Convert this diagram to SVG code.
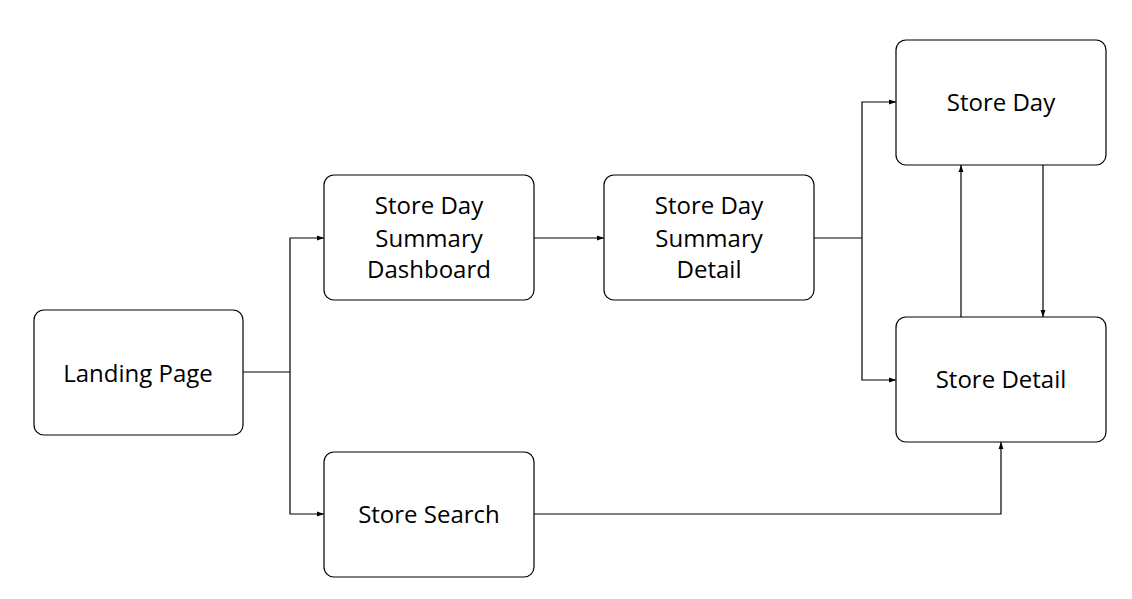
<svg xmlns="http://www.w3.org/2000/svg" width="1132" height="599" viewBox="0 0 1132 599">
<style>
.n rect{fill:#fff;stroke:#000;stroke-width:1.2}
.n text{font-family:"Open Sans","Liberation Sans",sans-serif;font-size:24px;text-anchor:middle;dominant-baseline:central;fill:#000}
.c path{fill:none;stroke:#000;stroke-width:1.2}
</style>
<defs><marker id="a" viewBox="0 0 10 10" refX="10" refY="5" markerWidth="7" markerHeight="7" orient="auto" markerUnits="userSpaceOnUse"><path d="M0,1.5L10,5L0,8.5z" fill="#000"/></marker></defs>
<rect width="1132" height="599" fill="#fff"/>
<g class="c">
<path d="M243,372H290"/>
<path d="M290,372V238H324" marker-end="url(#a)"/>
<path d="M290,372V514H324" marker-end="url(#a)"/>
<path d="M534,238H604" marker-end="url(#a)"/>
<path d="M814,238H862"/>
<path d="M862,238V102H896" marker-end="url(#a)"/>
<path d="M862,238V380H896" marker-end="url(#a)"/>
<path d="M1043,165V317" marker-end="url(#a)"/>
<path d="M961,317V165" marker-end="url(#a)"/>
<path d="M534,514H1001V442" marker-end="url(#a)"/>
</g>
<g id="landing" class="n"><rect x="34" y="310" width="209" height="125" rx="10"/><text x="138" y="372">Landing Page</text></g>
<g id="dashboard" class="n"><rect x="324" y="175" width="210" height="125" rx="10"/><text x="429" y="204">Store Day</text><text x="429" y="237">Summary</text><text x="429" y="268">Dashboard</text></g>
<g id="detail" class="n"><rect x="604" y="175" width="210" height="125" rx="10"/><text x="709" y="204">Store Day</text><text x="709" y="237">Summary</text><text x="709" y="268">Detail</text></g>
<g id="storeday" class="n"><rect x="896" y="40" width="210" height="125" rx="10"/><text x="1001" y="101">Store Day</text></g>
<g id="storedetail" class="n"><rect x="896" y="317" width="210" height="125" rx="10"/><text x="1001" y="378">Store Detail</text></g>
<g id="search" class="n"><rect x="324" y="452" width="210" height="125" rx="10"/><text x="429" y="513">Store Search</text></g>
</svg>
